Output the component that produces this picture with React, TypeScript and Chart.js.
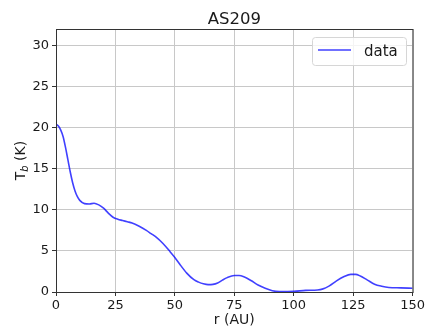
import React, { useEffect, useRef } from "react";
import { Chart, registerables } from "chart.js";

Chart.register(...registerables);

const radiusAU: number[] = [0, 1, 2, 3, 4, 5, 6, 7, 8, 9, 10, 12, 14, 16, 18, 20, 22, 24, 26, 28, 30, 32, 35, 38, 40, 42, 45, 48, 50, 52, 55, 58, 60, 62, 64, 66, 68, 70, 72, 75, 77, 79, 82, 85, 88, 91, 94, 100, 105, 110, 112, 115, 118, 121, 124, 126, 128, 131, 134, 137, 140, 145, 150];
const brightnessK: number[] = [20.4, 20.2, 19.7, 18.9, 17.6, 16.1, 14.6, 13.3, 12.3, 11.6, 11.15, 10.75, 10.7, 10.8, 10.6, 10.2, 9.6, 9.1, 8.85, 8.7, 8.55, 8.4, 8.0, 7.5, 7.1, 6.7, 5.9, 4.9, 4.2, 3.4, 2.3, 1.5, 1.2, 1.0, 0.9, 0.93, 1.1, 1.45, 1.75, 2.0, 2.0, 1.85, 1.4, 0.85, 0.45, 0.15, 0.05, 0.08, 0.2, 0.25, 0.35, 0.75, 1.35, 1.85, 2.15, 2.15, 1.95, 1.45, 0.95, 0.7, 0.55, 0.5, 0.45];
const xTicks: number[] = [0, 25, 50, 75, 100, 125, 150];
const yTicks: number[] = [0, 5, 10, 15, 20, 25, 30];
const titleText = "AS209";
const xLabel = "r (AU)";
const seriesLabel = "data";

const FONT = "'DejaVu Sans', sans-serif";
const LINE_COLOR = "rgba(0,0,255,0.75)";
const TEXT_COLOR = "#1a1a1a";

const decorPlugin = {
  id: "decor",
  afterDraw(chart: any) {
    const ctx = chart.ctx as CanvasRenderingContext2D;
    const area = chart.chartArea;
    ctx.save();
    ctx.strokeStyle = "#333";
    ctx.lineWidth = 1;
    ctx.strokeRect(area.left + 0.5, area.top + 0.5, area.right - area.left, area.bottom - area.top);
    ctx.fillStyle = TEXT_COLOR;
    ctx.font = `16.5px ${FONT}`;
    ctx.textAlign = "center";
    ctx.textBaseline = "alphabetic";
    ctx.fillText(titleText, (area.left + area.right) / 2, 24);
    ctx.font = `14px ${FONT}`;
    ctx.fillText(xLabel, (area.left + area.right) / 2, 324);
    ctx.translate(25, (area.top + area.bottom) / 2);
    ctx.rotate(-Math.PI / 2);
    ctx.textAlign = "left";
    const partT = "T";
    const partB = "b";
    const partK = " (K)";
    ctx.font = `14px ${FONT}`;
    const wT = ctx.measureText(partT).width;
    const wK = ctx.measureText(partK).width;
    ctx.font = `italic 10px ${FONT}`;
    const wB = ctx.measureText(partB).width;
    const total = wT + wB + wK;
    let x0 = -total / 2;
    ctx.font = `14px ${FONT}`;
    ctx.fillText(partT, x0, 0);
    x0 += wT;
    ctx.font = `italic 10px ${FONT}`;
    ctx.fillText(partB, x0, 3);
    x0 += wB;
    ctx.font = `14px ${FONT}`;
    ctx.fillText(partK, x0, 0);
    ctx.restore();

    ctx.save();
    const bx = 312.5, by = 37.5, bw = 94, bh = 28;
    ctx.fillStyle = "rgba(255,255,255,0.8)";
    ctx.strokeStyle = "#d6d6d6";
    ctx.lineWidth = 1;
    ctx.beginPath();
    const r = 3;
    ctx.moveTo(bx + r, by);
    ctx.lineTo(bx + bw - r, by);
    ctx.quadraticCurveTo(bx + bw, by, bx + bw, by + r);
    ctx.lineTo(bx + bw, by + bh - r);
    ctx.quadraticCurveTo(bx + bw, by + bh, bx + bw - r, by + bh);
    ctx.lineTo(bx + r, by + bh);
    ctx.quadraticCurveTo(bx, by + bh, bx, by + bh - r);
    ctx.lineTo(bx, by + r);
    ctx.quadraticCurveTo(bx, by, bx + r, by);
    ctx.closePath();
    ctx.fill();
    ctx.stroke();
    ctx.strokeStyle = LINE_COLOR;
    ctx.lineWidth = 1.5;
    ctx.beginPath();
    ctx.moveTo(318, 50);
    ctx.lineTo(351, 50);
    ctx.stroke();
    ctx.fillStyle = TEXT_COLOR;
    ctx.font = `15px ${FONT}`;
    ctx.textAlign = "left";
    ctx.textBaseline = "alphabetic";
    ctx.fillText(seriesLabel, 364, 56);
    ctx.restore();
  },
};

export default function App() {
  const canvasRef = useRef<HTMLCanvasElement | null>(null);

  useEffect(() => {
    const canvas = canvasRef.current;
    if (!canvas) return;
    const points = radiusAU.map((x, i) => ({ x, y: brightnessK[i] }));
    const chart = new Chart(canvas, {
      type: "line",
      data: {
        datasets: [
          {
            label: seriesLabel,
            data: points,
            borderColor: LINE_COLOR,
            backgroundColor: LINE_COLOR,
            borderWidth: 1.6,
            pointRadius: 0,
            cubicInterpolationMode: "monotone",
            fill: false,
          },
        ],
      },
      options: {
        responsive: false,
        animation: false,
        devicePixelRatio: 1,
        layout: { padding: { left: 0, right: 13, top: 29, bottom: 0 } },
        plugins: {
          legend: { display: false },
          title: { display: false },
          tooltip: { enabled: false },
        },
        scales: {
          x: {
            type: "linear",
            min: 0,
            max: 150,
            afterBuildTicks: (scale: any) => {
              scale.ticks = xTicks.map((v) => ({ value: v }));
            },
            afterFit: (scale: any) => {
              scale.height = 37;
            },
            ticks: {
              color: TEXT_COLOR,
              font: { family: FONT, size: 13 },
              padding: 2,
              maxRotation: 0,
            },
            grid: {
              color: "#c8c8c8",
              lineWidth: 1,
              tickColor: "#333",
              tickLength: 4,
              drawTicks: true,
            },
            border: { display: false },
          },
          y: {
            type: "linear",
            min: 0,
            max: 32,
            afterBuildTicks: (scale: any) => {
              scale.ticks = yTicks.map((v) => ({ value: v }));
            },
            afterFit: (scale: any) => {
              scale.width = 56;
            },
            ticks: {
              color: TEXT_COLOR,
              font: { family: FONT, size: 13 },
              padding: 3,
            },
            grid: {
              color: "#c8c8c8",
              lineWidth: 1,
              tickColor: "#333",
              tickLength: 4,
              drawTicks: true,
            },
            border: { display: false },
          },
        },
      },
      plugins: [decorPlugin],
    } as any);
    return () => chart.destroy();
  }, []);

  return (
    <div style={{ position: "fixed", left: 0, top: 0, width: 427, height: 329, background: "#fff" }}>
      <canvas ref={canvasRef} width={427} height={329} style={{ width: 427, height: 329, display: "block" }} />
    </div>
  );
}
